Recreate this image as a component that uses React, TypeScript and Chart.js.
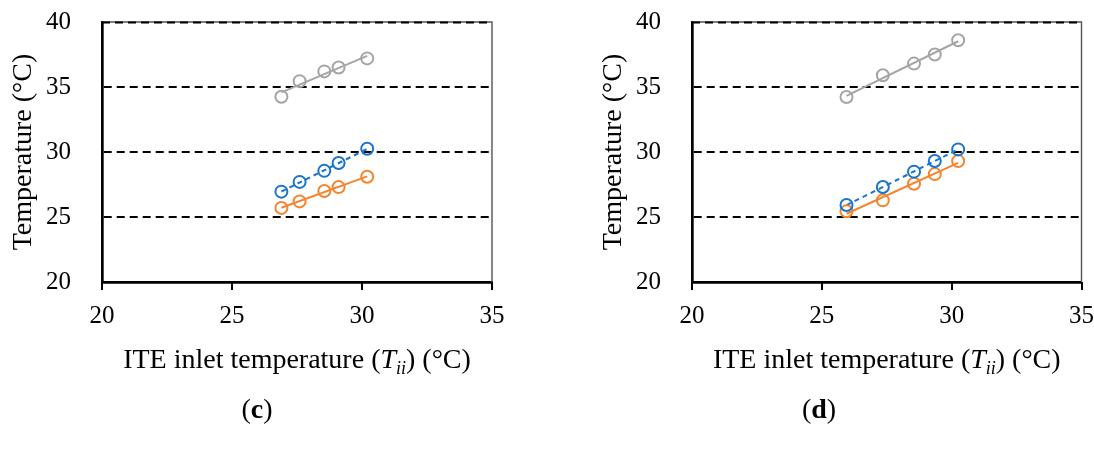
import React, { useEffect, useRef } from "react";
import { Chart, registerables } from "chart.js";

Chart.register(...registerables);

// ---- Data ----
const xTicks = [20, 25, 30, 35];
const yTicks = [20, 25, 30, 35, 40];

// Panel (c)
const inletC = [26.9, 27.6, 28.55, 29.1, 30.2];
const grayC = [34.25, 35.45, 36.2, 36.5, 37.2];
const blueC = [26.95, 27.7, 28.55, 29.15, 30.25];
const orangeC = [25.7, 26.2, 27.0, 27.3, 28.1];

// Panel (d)
const inletD = [25.95, 27.35, 28.55, 29.35, 30.25];
const grayD = [34.23, 35.9, 36.8, 37.5, 38.6];
const blueD = [25.92, 27.31, 28.49, 29.31, 30.2];
const orangeD = [25.44, 26.28, 27.56, 28.3, 29.3];

const GRAY = "#A5A5A5";
const BLUE = "#1B75CB";
const ORANGE = "#F5842C";
const FONT = "'Liberation Serif', 'Times New Roman', serif";

const W = 547;
const H = 452;
const PLOT_TOP = 22;
const PLOT_BOTTOM = 282;

function pts(xs: number[], ys: number[]) {
  return xs.map((x, i) => ({ x, y: ys[i] }));
}

// linear trendline from the data
function trend(xs: number[], ys: number[]) {
  const n = xs.length;
  const mx = xs.reduce((a, b) => a + b, 0) / n;
  const my = ys.reduce((a, b) => a + b, 0) / n;
  let sxy = 0;
  let sxx = 0;
  for (let i = 0; i < n; i++) {
    sxy += (xs[i] - mx) * (ys[i] - my);
    sxx += (xs[i] - mx) * (xs[i] - mx);
  }
  const k = sxy / sxx;
  const b = my - k * mx;
  const x0 = Math.min(...xs);
  const x1 = Math.max(...xs);
  return [
    { x: x0, y: k * x0 + b },
    { x: x1, y: k * x1 + b },
  ];
}

type PanelProps = {
  inlet: number[];
  gray: number[];
  blue: number[];
  orange: number[];
  plotLeft: number;
  plotRight: number;
  caption: string;
  captionX: number;
};

function Panel(props: PanelProps) {
  const ref = useRef<HTMLCanvasElement | null>(null);

  useEffect(() => {
    if (!ref.current) return;
    const { inlet, gray, blue, orange, plotLeft, plotRight, caption, captionX } = props;

    const markers = (data: number[], color: string) => ({
      type: "line" as const,
      data: pts(inlet, data),
      showLine: false,
      pointStyle: "circle",
      pointRadius: 6,
      pointBorderWidth: 2,
      pointBorderColor: color,
      pointBackgroundColor: "rgba(255,255,255,0)",
      borderColor: color,
      order: 1,
    });
    const line = (data: number[], color: string, dash: number[]) => ({
      type: "line" as const,
      data: trend(inlet, data),
      borderColor: color,
      borderWidth: 2,
      borderDash: dash,
      pointRadius: 0,
      fill: false,
      order: 2,
    });

    const framePlugin = {
      id: "frame",
      beforeDatasetsDraw(chart: any) {
        const { ctx, chartArea } = chart;
        ctx.save();
        ctx.strokeStyle = "#555555";
        ctx.lineWidth = 1.4;
        ctx.beginPath();
        ctx.moveTo(chartArea.left, chartArea.top);
        ctx.lineTo(chartArea.right, chartArea.top);
        ctx.lineTo(chartArea.right, chartArea.bottom);
        ctx.stroke();
        // dashed black line at the top value, over the thin frame
        ctx.strokeStyle = "#000";
        ctx.lineWidth = 2;
        ctx.setLineDash([8, 5]);
        ctx.beginPath();
        ctx.moveTo(chartArea.left, chartArea.top + 0.5);
        ctx.lineTo(chartArea.right, chartArea.top + 0.5);
        ctx.stroke();
        ctx.setLineDash([]);
        // outward x tick marks
        const xs = chart.scales.x;
        ctx.lineWidth = 2;
        xTicks.forEach((v) => {
          const px = Math.round(xs.getPixelForValue(v));
          ctx.beginPath();
          ctx.moveTo(px, chartArea.bottom);
          ctx.lineTo(px, chartArea.bottom + 8);
          ctx.stroke();
        });
        ctx.restore();
      },
      afterDraw(chart: any) {
        const { ctx, chartArea } = chart;
        const cx = (chartArea.left + chartArea.right) / 2;
        const cy = (chartArea.top + chartArea.bottom) / 2;
        ctx.save();
        ctx.fillStyle = "#000";
        // y title
        ctx.save();
        ctx.translate(chartArea.left - 71, cy);
        ctx.rotate(-Math.PI / 2);
        ctx.font = `28px ${FONT}`;
        ctx.textAlign = "center";
        ctx.textBaseline = "alphabetic";
        ctx.fillText("Temperature (°C)", 0, 0);
        ctx.restore();

        // x title with italic T and subscript ii
        const segs = [
          { t: "ITE inlet temperature (", f: `28px ${FONT}`, dy: 0 },
          { t: "T", f: `italic 28px ${FONT}`, dy: 0 },
          { t: "ii", f: `italic 18px ${FONT}`, dy: 6 },
          { t: ") (°C)", f: `28px ${FONT}`, dy: 0 },
        ];
        let total = 0;
        const widths = segs.map((s) => {
          ctx.font = s.f;
          const w = ctx.measureText(s.t).width;
          total += w;
          return w;
        });
        let x = cx - total / 2;
        const base = chartArea.bottom + 86;
        ctx.textAlign = "left";
        ctx.textBaseline = "alphabetic";
        segs.forEach((s, i) => {
          ctx.font = s.f;
          ctx.fillText(s.t, x, base + s.dy);
          x += widths[i];
        });

        // caption (c)/(d) with bold letter
        const cs = [
          { t: "(", f: `28px ${FONT}` },
          { t: caption, f: `bold 28px ${FONT}` },
          { t: ")", f: `28px ${FONT}` },
        ];
        let ct = 0;
        const cw = cs.map((s) => {
          ctx.font = s.f;
          const w = ctx.measureText(s.t).width;
          ct += w;
          return w;
        });
        let x2 = captionX - ct / 2;
        cs.forEach((s, i) => {
          ctx.font = s.f;
          ctx.fillText(s.t, x2, 418);
          x2 += cw[i];
        });
        ctx.restore();
      },
    };

    const chart = new Chart(ref.current, {
      type: "line",
      data: {
        datasets: [
          line(gray, GRAY, []),
          line(blue, BLUE, [5, 4]),
          line(orange, ORANGE, []),
          markers(gray, GRAY),
          markers(blue, BLUE),
          markers(orange, ORANGE),
        ] as any,
      },
      options: {
        responsive: false,
        animation: false,
        devicePixelRatio: 1,
        layout: { padding: { left: 0, right: W - plotRight, top: PLOT_TOP, bottom: 0 } },
        plugins: {
          legend: { display: false },
          tooltip: { enabled: false },
          title: { display: false },
        },
        scales: {
          x: {
            type: "linear",
            min: 20,
            max: 35,
            afterFit(scale: any) {
              scale.height = H - PLOT_BOTTOM;
            },
            afterBuildTicks(scale: any) {
              scale.ticks = xTicks.map((v) => ({ value: v }));
            },
            ticks: {
              font: { family: FONT, size: 25 },
              color: "#000",
              padding: 0,
            },
            grid: {
              display: true,
              drawOnChartArea: false,
              drawTicks: true,
              tickLength: 19,
              tickWidth: 0,
              tickColor: "rgba(0,0,0,0)",
            },
            border: { display: true, color: "#000", width: 2.7 },
          },
          y: {
            type: "linear",
            min: 20,
            max: 40,
            afterFit(scale: any) {
              scale.width = plotLeft;
            },
            afterBuildTicks(scale: any) {
              scale.ticks = yTicks.map((v) => ({ value: v }));
            },
            ticks: {
              font: { family: FONT, size: 25 },
              color: "#000",
              padding: 2,
            },
            grid: {
              display: true,
              drawTicks: true,
              tickLength: 29,
              tickWidth: 0,
              tickColor: "rgba(0,0,0,0)",
              color: "#000",
              lineWidth: (c: any) => (c.tick && c.tick.value > 20 && c.tick.value < 40 ? 2 : 0),
            },
            border: { display: true, color: "#000", width: 2.7, dash: [8, 5] },
          },
        },
      } as any,
      plugins: [framePlugin],
    });
    return () => chart.destroy();
  }, []);

  return <canvas ref={ref} width={W} height={H} style={{ width: W, height: H, display: "block" }} />;
}

export default function App() {
  useEffect(() => {
    document.body.style.margin = "0";
    document.body.style.background = "#fff";
  }, []);
  return (
    <div style={{ display: "flex", width: 1094, height: 452, background: "#fff" }}>
      <Panel
        inlet={inletC}
        gray={grayC}
        blue={blueC}
        orange={orangeC}
        plotLeft={102}
        plotRight={492}
        caption="c"
        captionX={257}
      />
      <Panel
        inlet={inletD}
        gray={grayD}
        blue={blueD}
        orange={orangeD}
        plotLeft={145}
        plotRight={535}
        caption="d"
        captionX={272}
      />
    </div>
  );
}
